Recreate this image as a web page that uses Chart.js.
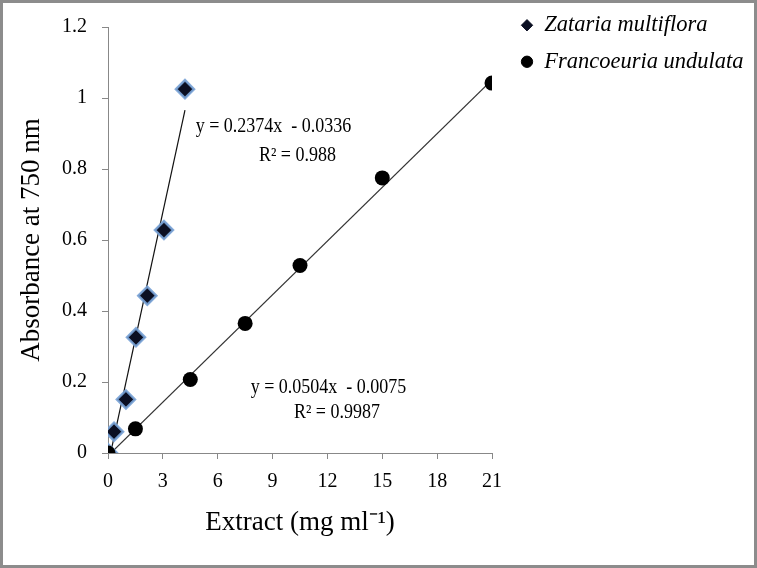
<!DOCTYPE html>
<html>
<head>
<meta charset="utf-8">
<script src="https://cdn.jsdelivr.net/npm/chart.js@4.4.1/dist/chart.umd.min.js"></script>
<style>
  html, body { margin: 0; padding: 0; background: #fff; }
  #wrap { width: 757px; height: 568px; position: relative; }
</style>
</head>
<body>
<div id="wrap"><canvas id="chart"></canvas></div>
<script>
// measured points
const zatariaX = [0, 0.33, 0.98, 1.53, 2.15, 3.06, 4.21];
const zatariaY = [0, 0.060, 0.151, 0.326, 0.443, 0.628, 1.025];
const francoX = [0, 1.5, 4.5, 7.5, 10.5, 15, 21];
const francoY = [0, 0.068, 0.207, 0.365, 0.528, 0.775, 1.042];

// trendline end points, from the printed fits
const zatariaFitX = [0, 4.21];
const zatariaFitY = [-0.034, 0.966];
const francoFitX = [0, 21];
const francoFitY = [-0.008, 1.051];

const seriesNames = ["Zataria multiflora", "Francoeuria undulata"];
const fitLabels = [
  ["y = 0.2374x  - 0.0336", "R\u00b2 = 0.988"],
  ["y = 0.0504x  - 0.0075", "R\u00b2 = 0.9987"],
];

const xTicks = [0, 21, 3];     // min, max, step
const yTicks = [0, 1.2, 0.2];

const serif = "'Liberation Serif', 'Times New Roman', serif";
const axisGrey = "#888888";

const toPoints = (xs, ys) => xs.map((x, i) => ({ x: x, y: ys[i] }));

// label anchors in data units (centre of each text line)
const fitLabelPos = [
  [[9.05, 0.92], [10.36, 0.836]],
  [[12.06, 0.185], [12.52, 0.112]],
];

const framePlugin = {
  id: "frame",
  beforeDraw(chart) {
    const { ctx, width, height } = chart;
    ctx.save();
    ctx.fillStyle = "#ffffff";
    ctx.fillRect(0, 0, width, height);
    ctx.restore();
  },
  afterDraw(chart) {
    const { ctx, width, height } = chart;
    ctx.save();
    ctx.strokeStyle = "#8c8c8c";
    ctx.lineWidth = 3;
    ctx.strokeRect(1.5, 1.5, width - 3, height - 3);
    ctx.restore();
  },
};

// Excel-style fit labels, slightly condensed like the original
const fitTextPlugin = {
  id: "fitText",
  afterDatasetsDraw(chart) {
    const { ctx, scales } = chart;
    const squeeze = 0.9;
    ctx.save();
    ctx.fillStyle = "#000";
    ctx.font = "20px " + serif;
    ctx.textAlign = "center";
    ctx.textBaseline = "middle";
    fitLabels.forEach((lines, i) => {
      lines.forEach((txt, j) => {
        const p = fitLabelPos[i][j];
        const px = scales.x.getPixelForValue(p[0]);
        const py = scales.y.getPixelForValue(p[1]);
        ctx.save();
        ctx.translate(px, py);
        ctx.scale(squeeze, 1);
        ctx.fillText(txt, 0, 0);
        ctx.restore();
      });
    });
    ctx.restore();
  },
};

// legend sits to the right of the plot, near the top
const legendPlace = {
  id: "legendPlace",
  afterLayout(chart) {
    const lg = chart.legend;
    if (!lg) return;
    const pad = lg.options.labels.padding;
    const dx = 521 - pad - lg.left;
    const dy = 14 - pad - lg.top;
    lg.left += dx; lg.right += dx;
    lg.top += dy; lg.bottom += dy;
  },
};

new Chart(document.getElementById("chart"), {
  type: "scatter",
  data: {
    datasets: [
      {
        label: seriesNames[0],
        data: toPoints(zatariaX, zatariaY),
        pointStyle: "rectRot",
        pointRadius: 9,
        pointHoverRadius: 9,
        backgroundColor: "#0b0f22",
        borderColor: "rgba(120,162,214,0.9)",
        borderWidth: 2.5,
        order: 1,
      },
      {
        label: seriesNames[1],
        data: toPoints(francoX, francoY),
        pointStyle: "circle",
        pointRadius: 7.5,
        pointHoverRadius: 7.5,
        backgroundColor: "#000",
        borderColor: "#000",
        borderWidth: 0,
        order: 0,
      },
      {
        label: "fit1",
        data: toPoints(zatariaFitX, zatariaFitY),
        showLine: true,
        pointRadius: 0,
        borderColor: "#111",
        borderWidth: 1.2,
        order: 3,
      },
      {
        label: "fit2",
        data: toPoints(francoFitX, francoFitY),
        showLine: true,
        pointRadius: 0,
        borderColor: "#333",
        borderWidth: 1.2,
        order: 2,
      },
    ],
  },
  options: {
    responsive: true,
    maintainAspectRatio: false,
    animation: false,
    layout: { padding: { left: 12, top: 25, right: 265, bottom: 20 } },
    plugins: {
      tooltip: { enabled: false },
      legend: {
        position: "chartArea",
        align: "start",
        labels: {
          usePointStyle: true,
          boxWidth: 12,
          boxHeight: 8,
          padding: 14,
          color: "#000",
          font: { family: serif, style: "italic", size: 22.5 },
          filter: (item) => item.datasetIndex < 2,
          sort: (a, b) => a.datasetIndex - b.datasetIndex,
          generateLabels(chart) {
            const items = Chart.defaults.plugins.legend.labels.generateLabels(chart);
            items.forEach((it) => {
              it.strokeStyle = it.fillStyle;
              it.lineWidth = 1;
            });
            return items;
          },
        },
      },
    },
    scales: {
      x: {
        type: "linear",
        min: xTicks[0],
        max: xTicks[1],
        afterFit(scale) { scale.height = 95; },
        grid: { drawOnChartArea: false, color: axisGrey, tickLength: 6 },
        border: { color: axisGrey, width: 1 },
        ticks: {
          stepSize: xTicks[2],
          color: "#000",
          padding: 11,
          font: { family: serif, size: 20 },
          callback: (v) => String(v),
        },
        title: {
          display: true,
          text: "Extract (mg ml\u207b\u00b9)",
          color: "#000",
          font: { family: serif, size: 27 },
          padding: { top: 0, bottom: 9 },
        },
      },
      y: {
        type: "linear",
        min: yTicks[0],
        max: yTicks[1],
        afterFit(scale) { scale.width = 96; },
        grid: { drawOnChartArea: false, color: axisGrey, tickLength: 6 },
        border: { color: axisGrey, width: 1 },
        ticks: {
          stepSize: yTicks[2],
          color: "#000",
          padding: 15,
          font: { family: serif, size: 20 },
          callback: (v) => String(+v.toFixed(1)),
        },
        title: {
          display: true,
          text: "Absorbance at 750 nm",
          color: "#000",
          font: { family: serif, size: 27 },
          padding: { top: 4, bottom: 0 },
        },
      },
    },
  },
  plugins: [framePlugin, fitTextPlugin, legendPlace],
});
</script>
</body>
</html>
